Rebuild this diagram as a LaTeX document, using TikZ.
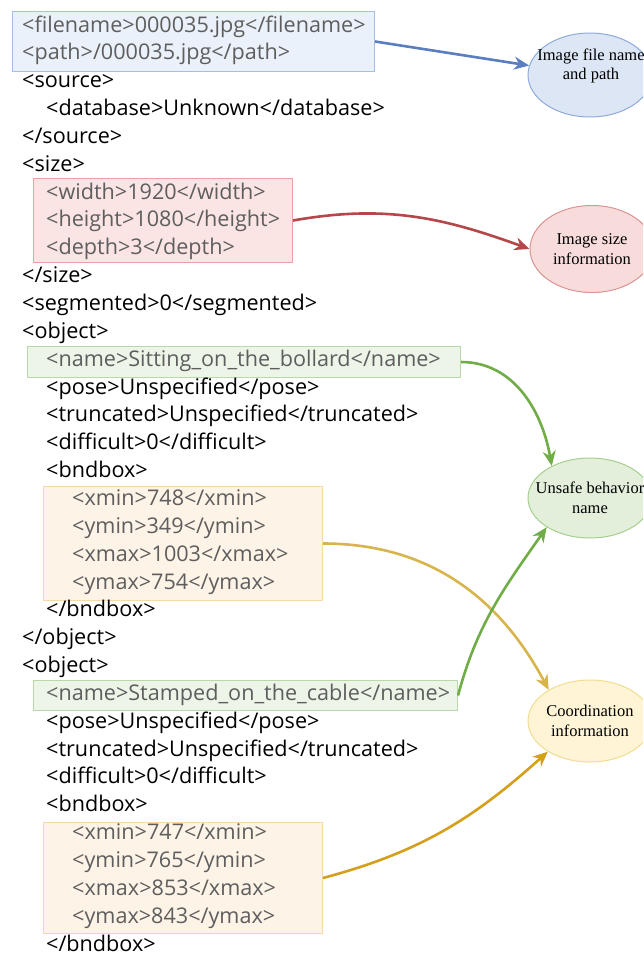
\documentclass[tikz,border=0pt]{standalone}
\usepackage{fontspec}
\setmainfont{Liberation Serif}
\newfontfamily\xmlfont{Open Sans}
\usetikzlibrary{arrows.meta,shapes.geometric}
\definecolor{bbfill}{HTML}{EBF1FA}\definecolor{bbdraw}{HTML}{A3C0E3}
\definecolor{befill}{HTML}{DCE6F4}\definecolor{bedraw}{HTML}{8FAADC}
\definecolor{barrow}{HTML}{5A7EC0}
\definecolor{rbfill}{HTML}{FBE4E4}\definecolor{rbdraw}{HTML}{E6A3A3}
\definecolor{refill}{HTML}{F8DCDC}\definecolor{redraw}{HTML}{D99494}
\definecolor{rarrow}{HTML}{B5474B}
\definecolor{gbfill}{HTML}{EDF5E8}\definecolor{gbdraw}{HTML}{B9D8A8}
\definecolor{gefill}{HTML}{E3EFDB}\definecolor{gedraw}{HTML}{A5CF8E}
\definecolor{garrow}{HTML}{70AD47}
\definecolor{obfill}{HTML}{FEF3E7}\definecolor{obdraw}{HTML}{F9D8A5}
\definecolor{yefill}{HTML}{FFF5D6}\definecolor{yedraw}{HTML}{F2DC8E}
\definecolor{oarrowa}{HTML}{D8B44C}\definecolor{oarrowb}{HTML}{D49F1A}
\definecolor{graytext}{HTML}{5E5E5E}
\newcommand\xl[5]{\node[xml,text=#5] (#1) at (#2,{32+27.85*#3}) {#4};}
\begin{document}
\begin{tikzpicture}[x=1pt,y=-1pt,
  xml/.style={anchor=base west,inner sep=0pt,font=\xmlfont\fontsize{21.6}{25}\selectfont},
  hlbox/.style={draw,line width=1pt,inner sep=0pt,anchor=north west},
  ell/.style={ellipse,draw,line width=1pt,inner sep=0pt},
  elltext/.style={align=center,inner sep=0pt,font=\fontsize{16.5}{19.5}\selectfont},
  conn/.style={line width=2.6pt,-{Stealth[length=15pt,width=13pt]}}]
\useasboundingbox (0,0) rectangle (643,956);
\clip (0,0) rectangle (643,956);
% highlight boxes
\node[hlbox,fill=bbfill,draw=bbdraw,minimum width=362pt,minimum height=60pt] (bbox) at (12,11) {};
\node[hlbox,fill=rbfill,draw=rbdraw,minimum width=259pt,minimum height=84pt] (rbox) at (33,178) {};
\node[hlbox,fill=gbfill,draw=gbdraw,minimum width=433pt,minimum height=31pt] (gbox1) at (27,346) {};
\node[hlbox,fill=obfill,draw=obdraw,minimum width=279pt,minimum height=114pt] (obox1) at (43,486) {};
\node[hlbox,fill=gbfill,draw=gbdraw,minimum width=424pt,minimum height=30pt] (gbox2) at (33,680) {};
\node[hlbox,fill=obfill,draw=obdraw,minimum width=279pt,minimum height=111pt] (obox2) at (43,822) {};
% xml lines
\xl{l0}{22}{0}{<filename>000035.jpg</filename>}{graytext}
\xl{l1}{22}{1}{<path>/000035.jpg</path>}{graytext}
\xl{l2}{22}{2}{<source>}{black}
\xl{l3}{46}{3}{<database>Unknown</database>}{black}
\xl{l4}{22}{4}{</source>}{black}
\xl{l5}{22}{5}{<size>}{black}
\xl{l6}{46}{6}{<width>1920</width>}{graytext}
\xl{l7}{46}{7}{<height>1080</height>}{graytext}
\xl{l8}{46}{8}{<depth>3</depth>}{graytext}
\xl{l9}{22}{9}{</size>}{black}
\xl{l10}{22}{10}{<segmented>0</segmented>}{black}
\xl{l11}{22}{11}{<object>}{black}
\xl{l12}{46}{12}{<name>Sitting\_on\_the\_bollard</name>}{graytext}
\xl{l13}{46}{13}{<pose>Unspecified</pose>}{black}
\xl{l14}{46}{14}{<truncated>Unspecified</truncated>}{black}
\xl{l15}{46}{15}{<difficult>0</difficult>}{black}
\xl{l16}{46}{16}{<bndbox>}{black}
\xl{l17}{72}{17}{<xmin>748</xmin>}{graytext}
\xl{l18}{72}{18}{<ymin>349</ymin>}{graytext}
\xl{l19}{72}{19}{<xmax>1003</xmax>}{graytext}
\xl{l20}{72}{20}{<ymax>754</ymax>}{graytext}
\xl{l21}{46}{21}{</bndbox>}{black}
\xl{l22}{22}{22}{</object>}{black}
\xl{l23}{22}{23}{<object>}{black}
\xl{l24}{46}{24}{<name>Stamped\_on\_the\_cable</name>}{graytext}
\xl{l25}{46}{25}{<pose>Unspecified</pose>}{black}
\xl{l26}{46}{26}{<truncated>Unspecified</truncated>}{black}
\xl{l27}{46}{27}{<difficult>0</difficult>}{black}
\xl{l28}{46}{28}{<bndbox>}{black}
\xl{l29}{72}{29}{<xmin>747</xmin>}{graytext}
\xl{l30}{72}{30}{<ymin>765</ymin>}{graytext}
\xl{l31}{72}{31}{<xmax>853</xmax>}{graytext}
\xl{l32}{72}{32}{<ymax>843</ymax>}{graytext}
\xl{l33}{46}{33}{</bndbox>}{black}
% ellipses
\node[ell,fill=befill,draw=bedraw,minimum width=124pt,minimum height=84pt] (be) at (590,75) {};
\node[elltext] (bet) at (591,66) {Image file name\\and path};
\node[ell,fill=refill,draw=redraw,minimum width=124pt,minimum height=87pt] (re) at (592,249) {};
\node[elltext] (ret) at (re.center) {Image size\\information};
\node[ell,fill=gefill,draw=gedraw,minimum width=124pt,minimum height=80pt] (ge) at (590,498) {};
\node[elltext] (get) at (ge.center) {Unsafe behavior\\name};
\node[ell,fill=yefill,draw=yedraw,minimum width=124pt,minimum height=82pt] (ye) at (590,721) {};
\node[elltext] (yet) at (ye.center) {Coordination\\information};
% connectors
\draw[conn,barrow] (bbox.east) -- (be);
\draw[conn,rarrow] (rbox.east) to[out=10,in=160] (re.west);
\draw[conn,garrow] (gbox1.east) to[out=0,in=100] (ge.140);
\draw[conn,oarrowa] (obox1.east) to[out=0,in=118] (ye.143);
\draw[conn,garrow] (gbox2.east) to[out=75,in=235] (ge.214);
\draw[conn,oarrowb] (obox2.east) to[out=15,in=222] (ye.216);
\end{tikzpicture}
\end{document}
